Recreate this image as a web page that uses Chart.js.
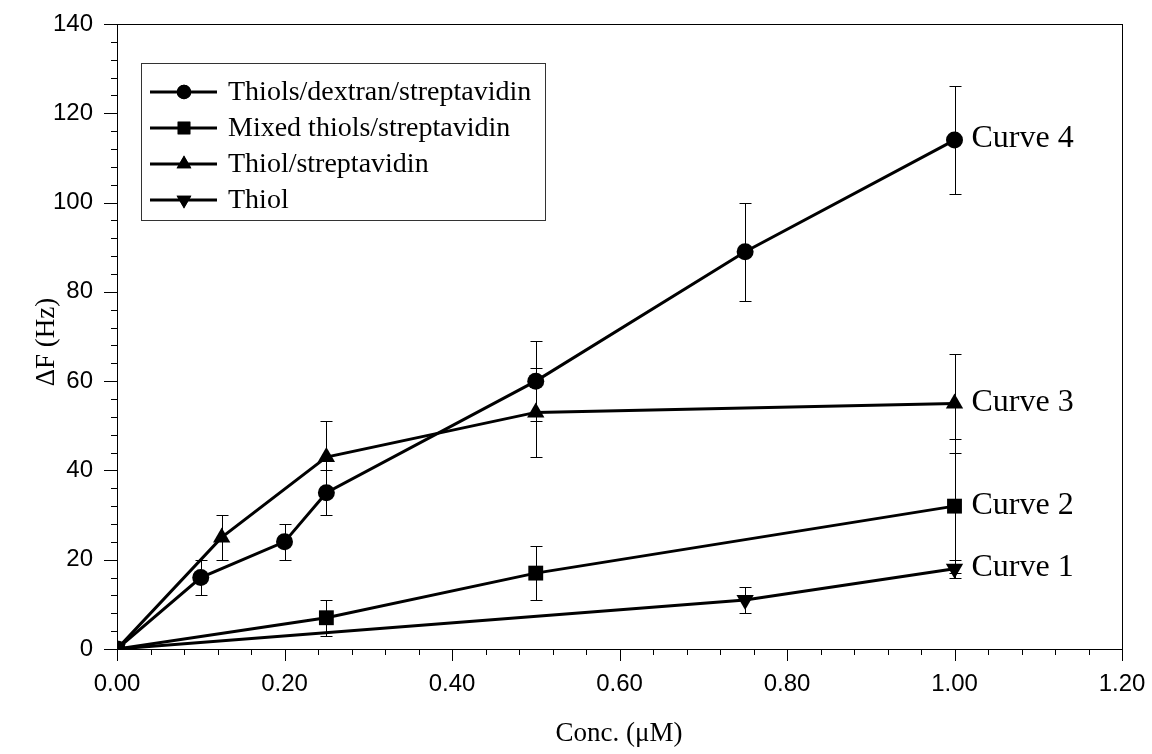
<!DOCTYPE html>
<html>
<head>
<meta charset="utf-8">
<script src="https://cdn.jsdelivr.net/npm/chart.js@4.4.1/dist/chart.umd.min.js"></script>
<style>
html,body{margin:0;padding:0;background:#fff;}
#wrap{width:1152px;height:754px;position:relative;}
</style>
</head>
<body>
<div id="wrap"><canvas id="c" width="1152" height="754"></canvas></div>
<script>
// ---- Data ----
const seriesNames = ["Thiols/dextran/streptavidin", "Mixed thiols/streptavidin", "Thiol/streptavidin", "Thiol"];
const curveLabels = ["Curve 4", "Curve 2", "Curve 3", "Curve 1"];

const dextranX = [0, 0.10, 0.20, 0.25, 0.50, 0.75, 1.00];
const dextranY = [0, 16, 24, 35, 60, 89, 114];
const dextranErr = [0, 4, 4, 5, 9, 11, 12];

const mixedX = [0, 0.25, 0.50, 1.00];
const mixedY = [0, 7, 17, 32];
const mixedErr = [0, 4, 6, 15];

const thiolStrepX = [0, 0.125, 0.25, 0.50, 1.00];
const thiolStrepY = [0, 25, 43, 53, 55];
const thiolStrepErr = [0, 5, 8, 10, 11];

const thiolX = [0, 0.75, 1.00];
const thiolY = [0, 11, 18];
const thiolErr = [0, 3, 2];

const xTickValues = [0, 0.2, 0.4, 0.6, 0.8, 1.0, 1.2];
const yTickValues = [0, 20, 40, 60, 80, 100, 120, 140];

// ---- Build ----
function pts(xs, ys, es) { return xs.map((x, i) => ({x: x, y: ys[i], e: es[i]})); }

const styles = [
  {pointStyle: 'circle', radius: 8.5, rotation: 0},
  {pointStyle: 'rect', radius: 10.5, rotation: 0},
  {pointStyle: 'triangle', radius: 10, rotation: 0},
  {pointStyle: 'triangle', radius: 10, rotation: 180}
];
const allData = [
  pts(dextranX, dextranY, dextranErr),
  pts(mixedX, mixedY, mixedErr),
  pts(thiolStrepX, thiolStrepY, thiolStrepErr),
  pts(thiolX, thiolY, thiolErr)
];

const datasets = allData.map((d, i) => ({
  label: seriesNames[i],
  data: d,
  borderColor: '#000',
  backgroundColor: '#000',
  borderWidth: 3,
  pointStyle: styles[i].pointStyle,
  pointRadius: styles[i].radius,
  pointHoverRadius: styles[i].radius,
  pointRotation: styles[i].rotation,
  pointBorderWidth: 0,
  pointBackgroundColor: '#000',
  showLine: true,
  tension: 0,
  order: i
}));

const extras = {
  id: 'extras',
  beforeDatasetsDraw(chart) {
    const ctx = chart.ctx;
    const xs = chart.scales.x, ys = chart.scales.y;
    ctx.save();
    ctx.strokeStyle = '#000';
    ctx.lineWidth = 1;
    allData.forEach(d => {
      d.forEach(p => {
        if (!p.e) return;
        const px = Math.round(xs.getPixelForValue(p.x)) + 0.5;
        const yt = Math.round(ys.getPixelForValue(p.y + p.e)) + 0.5;
        const yb = Math.round(ys.getPixelForValue(p.y - p.e)) + 0.5;
        ctx.beginPath();
        ctx.moveTo(px, yt); ctx.lineTo(px, yb);
        ctx.moveTo(px - 6, yt); ctx.lineTo(px + 6, yt);
        ctx.moveTo(px - 6, yb); ctx.lineTo(px + 6, yb);
        ctx.stroke();
      });
    });
    ctx.restore();
  },
  afterDraw(chart) {
    const ctx = chart.ctx;
    const xs = chart.scales.x, ys = chart.scales.y;
    const a = chart.chartArea;
    ctx.save();
    ctx.strokeStyle = '#000';
    ctx.lineWidth = 1;
    // frame
    ctx.strokeRect(Math.round(a.left) + 0.5, Math.round(a.top) + 0.5, Math.round(a.right - a.left), Math.round(a.bottom - a.top));
    // x ticks (major every 0.2, minor every 0.04)
    ctx.beginPath();
    for (let i = 0; i <= 30; i++) {
      const v = i * 0.04;
      const px = Math.round(xs.getPixelForValue(v)) + 0.5;
      const len = (i % 5 === 0) ? 12 : 6;
      ctx.moveTo(px, a.bottom); ctx.lineTo(px, a.bottom + len);
    }
    // y ticks (major every 20, minor every 4)
    for (let i = 0; i <= 35; i++) {
      const v = i * 4;
      const py = Math.round(ys.getPixelForValue(v)) + 0.5;
      const len = (i % 5 === 0) ? 13 : 6;
      ctx.moveTo(a.left, py); ctx.lineTo(a.left - len, py);
    }
    ctx.stroke();

    // axis titles
    ctx.fillStyle = '#000';
    ctx.font = '27px "Liberation Serif", "Times New Roman", serif';
    ctx.textAlign = 'center';
    ctx.textBaseline = 'middle';
    ctx.fillText('Conc. (\u03BCM)', 619, 734);
    ctx.save();
    ctx.translate(47, 342);
    ctx.rotate(-Math.PI / 2);
    ctx.fillText('\u0394F (Hz)', 0, 0);
    ctx.restore();

    // curve labels
    ctx.font = '32px "Liberation Serif", "Times New Roman", serif';
    ctx.textAlign = 'left';
    allData.forEach((d, i) => {
      const last = d[d.length - 1];
      const px = xs.getPixelForValue(last.x);
      const py = ys.getPixelForValue(last.y);
      ctx.fillText(curveLabels[i], px + 17, py - 1);
    });

    // legend
    const lx = 141, ly = 63, lw = 404, lh = 157;
    ctx.strokeStyle = '#333';
    ctx.strokeRect(lx + 0.5, ly + 0.5, lw, lh);
    ctx.font = '28px "Liberation Serif", "Times New Roman", serif';
    const rowY = [92, 128, 164, 200];
    chart.data.datasets.forEach((ds, i) => {
      const y = rowY[i];
      ctx.strokeStyle = '#000';
      ctx.lineWidth = 3;
      ctx.beginPath();
      ctx.moveTo(150, y); ctx.lineTo(217, y);
      ctx.stroke();
      Chart.helpers.drawPoint(ctx, {pointStyle: ds.pointStyle, rotation: ds.pointRotation, borderWidth: 0, radius: ds.pointRadius * 0.85}, 184, y);
      ctx.fillStyle = '#000';
      ctx.fill();
      ctx.fillText(ds.label, 228, y + 1);
    });
    ctx.restore();
  }
};

new Chart(document.getElementById('c'), {
  type: 'scatter',
  data: {datasets: datasets},
  options: {
    responsive: false,
    animation: false,
    events: [],
    layout: {padding: {left: 0, right: 30, top: 24, bottom: 0}},
    plugins: {legend: {display: false}, tooltip: {enabled: false}},
    scales: {
      x: {
        type: 'linear', min: 0, max: 1.2,
        afterBuildTicks: s => { s.ticks = xTickValues.map(v => ({value: v})); },
        afterFit: s => { s.height = 105; s.paddingLeft = 0; s.paddingRight = 0; },
        grid: {display: false, drawTicks: false},
        border: {display: false},
        ticks: {
          padding: 21, color: '#000', maxRotation: 0,
          font: {family: '"Liberation Sans", Arial, sans-serif', size: 24},
          callback: v => Number(v).toFixed(2)
        }
      },
      y: {
        type: 'linear', min: 0, max: 140,
        afterBuildTicks: s => { s.ticks = yTickValues.map(v => ({value: v})); },
        afterFit: s => { s.width = 117; s.paddingTop = 0; s.paddingBottom = 0; },
        grid: {display: false, drawTicks: false},
        border: {display: false},
        ticks: {
          padding: 24, color: '#000',
          font: {family: '"Liberation Sans", Arial, sans-serif', size: 24},
          callback: v => String(v)
        }
      }
    }
  },
  plugins: [extras]
});
</script>
</body>
</html>
